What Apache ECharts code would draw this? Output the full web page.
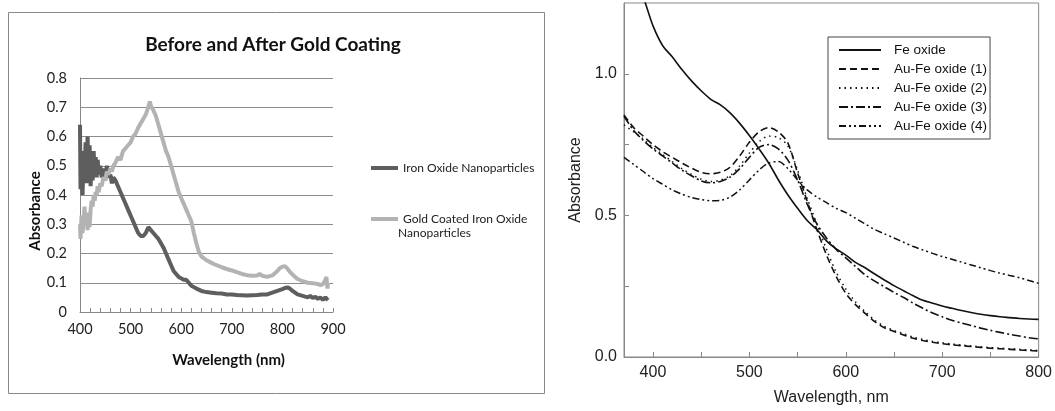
<!DOCTYPE html>
<html>
<head>
<meta charset="utf-8">
<title>Absorbance spectra</title>
<script src="https://cdn.jsdelivr.net/npm/echarts@6/dist/echarts.min.js"></script>
<style>
	html, body { margin: 0; padding: 0; background: #fff; }
	#main { width: 1055px; height: 411px; }
</style>
</head>
<body>
<div id="main"></div>
<script type="text/javascript">
	// left panel: Excel style spectra (noisy)
	var ironWl = [400,401,403,405,407,409,411,413,415,417,419,421,423,425,427,429,431,433,435,437,440,443,446,450,453,456,460,463,466,470,475,480,485,490,495,500,505,510,515,520,525,530,535,540,545,550,555,560,565,570,575,580,585,590,595,600,605,610,615,620,625,630,640,650,660,670,680,690,700,710,720,730,740,750,760,770,780,790,800,805,810,815,820,825,830,840,850,855,860,865,870,875,880,885,890];
	var ironAbs = [0.64,0.42,0.55,0.40,0.52,0.45,0.58,0.44,0.60,0.46,0.57,0.43,0.52,0.45,0.55,0.47,0.53,0.46,0.52,0.47,0.50,0.46,0.49,0.45,0.50,0.46,0.47,0.44,0.46,0.45,0.43,0.41,0.39,0.37,0.35,0.33,0.31,0.29,0.27,0.26,0.26,0.27,0.29,0.28,0.27,0.26,0.25,0.235,0.22,0.20,0.18,0.16,0.14,0.13,0.12,0.115,0.11,0.11,0.10,0.09,0.085,0.08,0.072,0.068,0.066,0.064,0.063,0.06,0.06,0.058,0.057,0.056,0.057,0.058,0.06,0.06,0.066,0.072,0.078,0.082,0.084,0.08,0.072,0.066,0.06,0.055,0.05,0.055,0.048,0.052,0.045,0.05,0.042,0.05,0.04];

	var goldWl = [400,401,403,405,407,409,411,413,415,417,419,421,423,425,427,429,431,433,435,437,440,443,446,450,453,456,460,463,466,470,475,480,485,490,495,500,505,510,515,520,525,530,535,538,540,545,550,555,560,565,570,575,580,585,590,595,600,605,610,615,620,625,630,635,640,645,650,660,670,680,690,700,710,720,730,740,750,755,760,770,780,785,790,795,800,805,810,815,820,825,830,840,850,860,870,875,880,885,887,889,890];
	var goldAbs = [0.30,0.25,0.33,0.27,0.31,0.36,0.30,0.34,0.28,0.33,0.29,0.35,0.38,0.36,0.40,0.38,0.41,0.40,0.43,0.41,0.44,0.43,0.46,0.45,0.48,0.47,0.49,0.48,0.50,0.51,0.53,0.52,0.55,0.56,0.57,0.58,0.60,0.61,0.63,0.645,0.66,0.675,0.70,0.72,0.705,0.69,0.67,0.64,0.61,0.58,0.55,0.53,0.50,0.47,0.44,0.41,0.39,0.37,0.35,0.33,0.31,0.27,0.235,0.205,0.19,0.183,0.177,0.168,0.16,0.153,0.147,0.142,0.136,0.13,0.126,0.124,0.125,0.13,0.124,0.12,0.125,0.132,0.14,0.15,0.155,0.157,0.148,0.137,0.128,0.12,0.113,0.105,0.10,0.098,0.096,0.092,0.095,0.11,0.12,0.08,0.10];

	// right panel: published spectra, sampled every 10 nm
	var rightWl = [370,380,390,400,410,420,430,440,450,460,470,480,490,500,510,520,530,540,550,560,570,580,590,600,610,620,630,640,650,660,670,680,690,700,710,720,730,740,750,760,770,780,790,800];
	var feOxide = [1.42,1.34,1.27,1.17,1.10,1.06,1.015,0.975,0.94,0.91,0.89,0.862,0.825,0.782,0.735,0.685,0.626,0.572,0.525,0.482,0.45,0.41,0.382,0.36,0.334,0.315,0.293,0.272,0.252,0.234,0.216,0.20,0.19,0.18,0.172,0.164,0.157,0.151,0.146,0.142,0.139,0.136,0.134,0.133];
	var auFe1 = [0.855,0.81,0.78,0.75,0.725,0.705,0.685,0.667,0.652,0.647,0.652,0.67,0.71,0.758,0.795,0.81,0.795,0.755,0.65,0.55,0.45,0.36,0.285,0.225,0.185,0.154,0.125,0.103,0.09,0.078,0.066,0.058,0.052,0.047,0.043,0.04,0.037,0.034,0.031,0.029,0.027,0.025,0.023,0.021];
	var auFe2 = [0.82,0.795,0.77,0.74,0.715,0.69,0.665,0.645,0.628,0.62,0.625,0.64,0.675,0.72,0.76,0.78,0.775,0.745,0.66,0.56,0.47,0.38,0.30,0.24,0.195,0.16,0.13,0.108,0.094,0.082,0.07,0.062,0.055,0.05,0.046,0.042,0.039,0.036,0.033,0.031,0.029,0.027,0.025,0.023];
	var auFe3 = [0.85,0.80,0.765,0.735,0.71,0.685,0.66,0.64,0.622,0.615,0.62,0.635,0.665,0.705,0.74,0.75,0.735,0.695,0.625,0.54,0.47,0.42,0.38,0.35,0.32,0.29,0.268,0.248,0.228,0.21,0.19,0.172,0.155,0.142,0.13,0.12,0.111,0.102,0.094,0.087,0.08,0.074,0.068,0.064];
	var auFe4 = [0.705,0.68,0.655,0.63,0.61,0.59,0.575,0.563,0.556,0.552,0.553,0.565,0.59,0.625,0.66,0.685,0.69,0.665,0.625,0.59,0.565,0.545,0.525,0.51,0.49,0.47,0.45,0.435,0.42,0.405,0.39,0.378,0.366,0.355,0.345,0.335,0.325,0.315,0.305,0.296,0.288,0.28,0.27,0.26];

	var xTicksRight = [400,500,600,700,800];
	var xMinorRight = [400,450,500,550,600,650,700,750,800];
	var yTicksRight = [0,0.5,1];
	var yMinorRight = [0,0.25,0.5,0.75,1];

	function pairs(xs, ys) {
		var out = [];
		for (var i = 0; i < xs.length; i++) {
			out.push([xs[i], ys[i]]);
		}
		return out;
	}

	var leftFont = 'Lato';
	var rightFont = 'Liberation Sans';
	var black = '#111';

	var myChart = echarts.init(document.getElementById('main'), null, {renderer: 'canvas'});

	var option = {
		backgroundColor: '#fff',
		animation: false,
		title: {
			text: 'Before and After Gold Coating',
			left: 268,
			top: 30,
			textAlign: 'center',
			textStyle: { fontFamily: leftFont, fontWeight: 'bold', fontSize: 19, color: '#111' }
		},
		graphic: [
			{
				type: 'rect',
				shape: { x: 8.5, y: 12.5, width: 536, height: 381 },
				style: { fill: 'none', stroke: '#888', lineWidth: 1 }
			},
			{
				type: 'text',
				left: 398,
				top: 227,
				style: { text: 'Nanoparticles', fontFamily: leftFont, fontSize: 12, fill: '#222' }
			}
		],
		legend: [
			{
				orient: 'vertical',
				left: 366,
				top: 157,
				itemWidth: 27,
				itemHeight: 4,
				itemGap: 39,
				icon: 'rect',
				selectedMode: false,
				data: ['Iron Oxide Nanoparticles', 'Gold Coated Iron Oxide Nanoparticles'],
				formatter: function (name) {
					return name == 'Iron Oxide Nanoparticles' ? name : 'Gold Coated Iron Oxide';
				},
				textStyle: { fontFamily: leftFont, fontSize: 12, color: '#222' }
			},
			{
				orient: 'vertical',
				left: 828,
				top: 37,
				itemWidth: 42,
				itemHeight: 14,
				itemGap: 3,
				padding: [5, 3, 5, 10],
				borderColor: '#444',
				borderWidth: 1,
				selectedMode: false,
				itemStyle: { opacity: 0 },
				data: ['Fe oxide', 'Au-Fe oxide (1)', 'Au-Fe oxide (2)', 'Au-Fe oxide (3)', 'Au-Fe oxide (4)'],
				textStyle: { fontFamily: rightFont, fontSize: 13.5, color: '#111', lineHeight: 16, padding: [0, 0, 0, 8] }
			}
		],
		grid: [
			{ left: 80, right: 722, top: 78, bottom: 99 },
			{ left: 624, right: 14, top: 3, bottom: 50, show: true, borderColor: '#888', borderWidth: 1 }
		],
		xAxis: [
			{
				gridIndex: 0,
				type: 'value',
				min: 400,
				max: 900,
				interval: 100,
				name: 'Wavelength (nm)',
				nameLocation: 'middle',
				nameGap: 41,
				nameTextStyle: { fontFamily: leftFont, fontWeight: 'bold', fontSize: 15, color: '#111', padding: [0, 0, 0, 44] },
				axisLine: { lineStyle: { color: '#888' } },
				axisTick: { show: true, inside: true, length: 4, lineStyle: { color: '#888' } },
				minorTick: { show: true, splitNumber: 5, length: 4, lineStyle: { color: '#888' } },
				axisLabel: { fontFamily: leftFont, fontSize: 14.5, color: '#222', margin: 10 },
				splitLine: { show: false }
			},
			{
				gridIndex: 1,
				type: 'value',
				min: 370,
				max: 800,
				name: 'Wavelength, nm',
				nameLocation: 'middle',
				nameGap: 33,
				nameTextStyle: { fontFamily: rightFont, fontSize: 16, color: '#222' },
				axisLine: { lineStyle: { color: '#888' } },
				axisTick: { show: true, inside: true, length: 5, customValues: xMinorRight, lineStyle: { color: '#888' } },
				axisLabel: { fontFamily: rightFont, fontSize: 16, color: '#222', margin: 8, customValues: xTicksRight },
				splitLine: { show: false }
			}
		],
		yAxis: [
			{
				gridIndex: 0,
				type: 'value',
				min: 0,
				max: 0.8,
				interval: 0.1,
				name: 'Absorbance',
				nameLocation: 'middle',
				nameGap: 36,
				nameTextStyle: { fontFamily: leftFont, fontWeight: 'bold', fontSize: 15, color: '#111', padding: [0, 32, 0, 0] },
				axisLine: { show: true, lineStyle: { color: '#888' } },
				axisTick: { show: false },
				axisLabel: { fontFamily: leftFont, fontSize: 14.5, color: '#222', margin: 13 },
				splitLine: { lineStyle: { color: '#8c8c8c' } }
			},
			{
				gridIndex: 1,
				type: 'value',
				min: 0,
				max: 1.25,
				name: 'Absorbance',
				nameLocation: 'middle',
				nameGap: 40,
				nameTextStyle: { fontFamily: rightFont, fontSize: 16, color: '#222' },
				axisLine: { show: true, lineStyle: { color: '#888' } },
				axisTick: { show: true, inside: true, length: 5, customValues: yMinorRight, lineStyle: { color: '#888' } },
				axisLabel: {
					fontFamily: rightFont, fontSize: 16, color: '#222', margin: 7, customValues: yTicksRight,
					formatter: function (v) { return v.toFixed(1); }
				},
				splitLine: { show: false }
			}
		],
		series: [
			{
				name: 'Iron Oxide Nanoparticles',
				type: 'line',
				xAxisIndex: 0,
				yAxisIndex: 0,
				symbol: 'none',
				color: '#5e5e5e',
				lineStyle: { width: 4, color: '#5e5e5e' },
				data: pairs(ironWl, ironAbs)
			},
			{
				name: 'Gold Coated Iron Oxide Nanoparticles',
				type: 'line',
				xAxisIndex: 0,
				yAxisIndex: 0,
				symbol: 'none',
				color: '#b3b3b3',
				lineStyle: { width: 4, color: '#b3b3b3' },
				data: pairs(goldWl, goldAbs)
			},
			{
				name: 'Fe oxide',
				type: 'line',
				xAxisIndex: 1,
				yAxisIndex: 1,
				symbol: 'none',
				smooth: 0.3,
				color: black,
				lineStyle: { width: 1.6, color: black, type: 'solid' },
				data: pairs(rightWl, feOxide)
			},
			{
				name: 'Au-Fe oxide (1)',
				type: 'line',
				xAxisIndex: 1,
				yAxisIndex: 1,
				symbol: 'none',
				smooth: 0.3,
				color: black,
				lineStyle: { width: 1.6, color: black, type: [7, 4] },
				data: pairs(rightWl, auFe1)
			},
			{
				name: 'Au-Fe oxide (2)',
				type: 'line',
				xAxisIndex: 1,
				yAxisIndex: 1,
				symbol: 'none',
				smooth: 0.3,
				color: black,
				lineStyle: { width: 1.5, color: black, type: [1.5, 4] },
				data: pairs(rightWl, auFe2)
			},
			{
				name: 'Au-Fe oxide (3)',
				type: 'line',
				xAxisIndex: 1,
				yAxisIndex: 1,
				symbol: 'none',
				smooth: 0.3,
				color: black,
				lineStyle: { width: 1.6, color: black, type: [9, 3, 2, 3] },
				data: pairs(rightWl, auFe3)
			},
			{
				name: 'Au-Fe oxide (4)',
				type: 'line',
				xAxisIndex: 1,
				yAxisIndex: 1,
				symbol: 'none',
				smooth: 0.3,
				color: black,
				lineStyle: { width: 1.5, color: black, type: [7, 3, 2, 3, 2, 3] },
				data: pairs(rightWl, auFe4)
			}
		]
	};
	myChart.setOption(option);
</script>
</body>
</html>
